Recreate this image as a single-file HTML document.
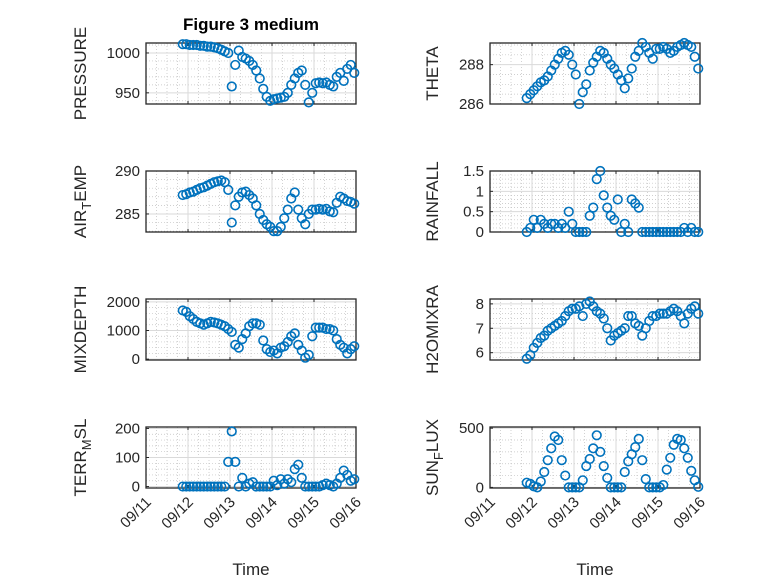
<!DOCTYPE html>
<html><head><meta charset="utf-8"><style>
html,body{margin:0;padding:0;background:#fff;}
svg{display:block;font-family:"Liberation Sans","DejaVu Sans",sans-serif;}
</style></head><body>
<svg id="fig" width="778" height="583" viewBox="0 0 778 583" xmlns="http://www.w3.org/2000/svg">
<rect width="778" height="583" fill="#fff"/>
<text x="251" y="30" text-anchor="middle" font-size="17" font-weight="bold" fill="#000">Figure 3 medium</text>
</svg>
<script>
// time: days after 09/11 00:00, 2-hour steps
var tStart = 0.875;
var xTickLabels = ["09/11","09/12","09/13","09/14","09/15","09/16"];
var pressure = [1011,1011,1010,1010,1010,1009,1009,1008,1008,1007,1006,1004,1002,1000,958,985,1003,995,993,990,985,978,968,955,945,940,942,943,944,945,950,960,968,975,978,960,938,950,962,963,962,963,960,958,970,975,965,980,985,975];
var theta = [286.3,286.5,286.7,286.9,287.1,287.2,287.4,287.7,288.0,288.3,288.6,288.7,288.5,288.0,287.5,286.0,286.6,287.0,287.7,288.1,288.4,288.7,288.6,288.3,288.0,287.8,287.5,287.2,286.8,287.3,287.8,288.4,288.7,289.1,288.9,288.6,288.3,288.8,288.8,288.9,288.8,288.6,288.7,288.9,289.0,289.1,289.0,288.9,288.4,287.8];
var airTemp = [287.2,287.3,287.5,287.6,287.8,288.0,288.1,288.3,288.5,288.7,288.8,288.9,288.7,287.8,284.0,286.0,287.0,287.5,287.6,287.2,286.8,286.0,285.0,284.3,283.8,283.5,283.0,283.0,283.5,284.5,285.5,286.8,287.5,285.5,284.5,283.8,285.0,285.5,285.5,285.6,285.5,285.6,285.3,285.2,286.3,287.0,286.8,286.5,286.4,286.2];
var rainfall = [0,0.1,0.3,0.1,0.3,0.2,0.1,0.2,0.2,0.1,0.2,0.1,0.5,0.2,0,0,0,0,0.4,0.6,1.3,1.5,0.9,0.6,0.4,0.3,0.8,0,0.2,0,0.8,0.7,0.6,0,0,0,0,0,0,0,0,0,0,0,0,0.1,0,0.1,0,0];
var mixDepth = [1700,1650,1500,1400,1300,1250,1200,1250,1300,1280,1250,1200,1150,1050,950,500,400,700,900,1150,1250,1250,1200,650,350,250,300,200,400,450,600,800,900,500,300,50,150,800,1100,1100,1100,1050,1050,1000,700,500,400,200,350,450];
var h2oMix = [5.75,5.9,6.2,6.4,6.6,6.7,6.9,7.0,7.1,7.2,7.3,7.5,7.7,7.8,7.8,7.9,7.5,8.0,8.1,7.9,7.7,7.6,7.4,7.0,6.5,6.7,6.8,6.9,7.0,7.5,7.5,7.2,7.1,6.7,7.0,7.3,7.5,7.5,7.6,7.6,7.6,7.7,7.8,7.7,7.5,7.2,7.6,7.8,7.9,7.6];
var terrMsl = [0,0,0,0,0,0,0,0,0,0,0,0,0,85,190,85,0,30,0,10,15,0,0,0,0,0,20,5,25,10,25,15,60,75,30,0,0,0,0,0,5,10,5,0,10,30,55,40,20,25];
var sunFlux = [40,30,10,0,50,130,230,330,430,400,230,100,0,0,0,0,60,180,240,330,440,300,180,80,0,0,0,0,130,220,280,340,410,230,70,0,0,0,0,20,150,250,360,410,400,330,250,140,60,5];

var NS="http://www.w3.org/2000/svg";
var svg=document.getElementById('fig');
function mk(tag,attrs,parent){var e=document.createElementNS(NS,tag);for(var k in attrs)e.setAttribute(k,attrs[k]);(parent||svg).appendChild(e);return e;}

var panels=[
 {name:'pressure',data:pressure,x0:146,y0:43,ymin:936,ymax:1012.5,ticks:[950,1000],minor:10,label:['PRESSURE'],lx:80,tl:['950','1000']},
 {name:'theta',data:theta,x0:490,y0:43,ymin:286,ymax:289.1,ticks:[286,288],minor:0.5,label:['THETA'],lx:432,tl:['286','288']},
 {name:'air-temp',data:airTemp,x0:146,y0:171,ymin:282.9,ymax:290,ticks:[285,290],minor:1,label:['AIR','T','EMP'],lx:80,tl:['285','290']},
 {name:'rainfall',data:rainfall,x0:490,y0:171,ymin:0,ymax:1.5,ticks:[0,0.5,1,1.5],minor:0.1,label:['RAINFALL'],lx:432,tl:['0','0.5','1','1.5']},
 {name:'mixdepth',data:mixDepth,x0:146,y0:299,ymin:-30,ymax:2100,ticks:[0,1000,2000],minor:200,label:['MIXDEPTH'],lx:80,tl:['0','1000','2000']},
 {name:'h2omixra',data:h2oMix,x0:490,y0:299,ymin:5.7,ymax:8.2,ticks:[6,7,8],minor:0.2,label:['H2OMIXRA'],lx:432,tl:['6','7','8']},
 {name:'terr-msl',data:terrMsl,x0:146,y0:427,ymin:-5,ymax:205,ticks:[0,100,200],minor:20,label:['TERR','M','SL'],lx:80,tl:['0','100','200']},
 {name:'sun-flux',data:sunFlux,x0:490,y0:427,ymin:-5,ymax:510,ticks:[0,500],minor:100,label:['SUN','F','LUX'],lx:432,tl:['0','500']}
];
var W=210,H=61,DAYS=5;
panels.forEach(function(p,pi){
  var g=mk('g',{});
  
  
  function X(t){return p.x0+t/DAYS*W;}
  function Y(v){return p.y0+H-(v-p.ymin)/(p.ymax-p.ymin)*H;}
  for(var t=0.25;t<DAYS;t+=0.25){if(Math.abs(t-Math.round(t))<1e-6)continue;
    mk('line',{x1:X(t),x2:X(t),y1:p.y0,y2:p.y0+H,stroke:'#c0c0c0','stroke-width':0.7,'stroke-dasharray':'1,2'},g);}
  var vs=Math.ceil(p.ymin/p.minor)*p.minor;
  for(var v=vs;v<p.ymax;v+=p.minor){ if(p.ticks.some(function(tk){return Math.abs(tk-v)<p.minor/10;}))continue;
    mk('line',{x1:p.x0,x2:p.x0+W,y1:Y(v),y2:Y(v),stroke:'#c0c0c0','stroke-width':0.7,'stroke-dasharray':'1,2'},g);}
  for(var d=1;d<DAYS;d++) mk('line',{x1:X(d),x2:X(d),y1:p.y0,y2:p.y0+H,stroke:'#dadada','stroke-width':1},g);
  p.ticks.forEach(function(v,i){
    mk('line',{x1:p.x0,x2:p.x0+W,y1:Y(v),y2:Y(v),stroke:'#dadada','stroke-width':1},g);
    mk('line',{x1:p.x0,x2:p.x0+3,y1:Y(v),y2:Y(v),stroke:'#262626','stroke-width':1},g);
    var tx=mk('text',{x:p.x0-6,y:Y(v)+5,'text-anchor':'end','font-size':15,fill:'#262626'},g);
    tx.textContent=p.tl[i];
    
    
  });
  for(var d2=1;d2<DAYS;d2++){mk('line',{x1:X(d2),x2:X(d2),y1:p.y0+H,y2:p.y0+H-3,stroke:'#262626'},g);mk('line',{x1:X(d2),x2:X(d2),y1:p.y0,y2:p.y0+3,stroke:'#262626'},g);}
  mk('rect',{x:p.x0,y:p.y0,width:W,height:H,fill:'none',stroke:'#262626','stroke-width':1.3},g);
  p.data.forEach(function(v,k){
    var c=mk('circle',{cx:X(tStart+k/12),cy:Y(v),r:4.3,fill:'none',stroke:'#0072BD','stroke-width':1.6},g);
    
    
  });
  var cy=p.y0+H/2;
  var lab=mk('text',{x:0,y:0,'text-anchor':'middle','font-size':17,fill:'#262626',transform:'translate('+(p.lx+6)+','+cy+') rotate(-90)'},g);
  
  
  if(p.label.length===1){lab.textContent=p.label[0];}
  else{
    var a=mk('tspan',{},lab);a.textContent=p.label[0];
    var b=mk('tspan',{dy:5,'font-size':13},lab);b.textContent=p.label[1];
    var c2=mk('tspan',{dy:-5},lab);c2.textContent=p.label[2];
  }
  if(pi>=6){
    xTickLabels.forEach(function(s,i){
      var tx=mk('text',{x:0,y:0,'text-anchor':'end','font-size':15,fill:'#262626',transform:'translate('+(X(i)+6)+','+(p.y0+H+15)+') rotate(-45)'},g);
      tx.textContent=s;
      
      
    });
    var xt=mk('text',{x:p.x0+W/2,y:575,'text-anchor':'middle','font-size':17,fill:'#262626'},g);
    xt.textContent='Time';
    
    
  }
});
</script>
</body></html>
